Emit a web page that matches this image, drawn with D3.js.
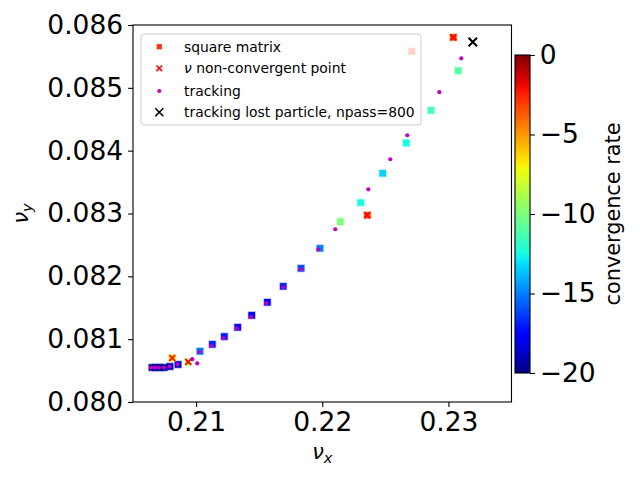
<html>
<head>
<style>
  body { margin: 0; background: #fff; }
  svg { font-family: "DejaVu Sans", sans-serif; }
</style>
<script src="https://cdn.jsdelivr.net/npm/d3@7"></script>
</head>
<body>
<svg id="chart"></svg>
<script>
// square matrix tunes, coloured by convergence rate
let squareNux = [0.20651, 0.20682, 0.20714, 0.20746, 0.20793, 0.20857, 0.20811, 0.20938,
                 0.21031, 0.21129, 0.21224, 0.21330, 0.21441, 0.21565, 0.21691, 0.21832,
                 0.21982, 0.22143, 0.22305, 0.22357, 0.22479, 0.22666, 0.22862, 0.23078,
                 0.22709, 0.23039]
let squareNuy = [0.080549, 0.080549, 0.080549, 0.080549, 0.080565, 0.080597, 0.080700, 0.080637,
                 0.080807, 0.080918, 0.081042, 0.081189, 0.081380, 0.081587, 0.081841, 0.082128,
                 0.082446, 0.082870, 0.083172, 0.082973, 0.083640, 0.084122, 0.084642, 0.085273,
                 0.085581, 0.085804]
let squareRate = [-19.5, -19.5, -19.5, -19.3, -19.0, -18.8, -6.5, -8.8,
                  -15.2, -16.8, -17.0, -17.5, -18.0, -17.5, -16.8, -16.0,
                  -15.0, -10.0, -12.5, -3.5, -13.4, -12.5, -11.4, -11.0,
                  -3.0, -3.5]

// points where nu did not converge
let nonconvNux = [0.20811, 0.20938, 0.22357, 0.22709, 0.23039]
let nonconvNuy = [0.080700, 0.080637, 0.082973, 0.085581, 0.085804]

// tracking tunes
let trackNux = [0.20643, 0.20674, 0.20706, 0.20746, 0.20793, 0.20854, 0.20970, 0.21009,
                0.21027, 0.21121, 0.21219, 0.21322, 0.21438, 0.21557, 0.21691, 0.21829,
                0.21969, 0.22103, 0.22365, 0.22539, 0.22674, 0.22928, 0.23102]
let trackNuy = [0.080549, 0.080549, 0.080549, 0.080549, 0.080565, 0.080600, 0.080681, 0.080616,
                0.080796, 0.080891, 0.081014, 0.081173, 0.081353, 0.081571, 0.081825, 0.082112,
                0.082430, 0.082749, 0.083385, 0.083863, 0.084245, 0.084931, 0.085470]

// lost particle
let lostNux = [0.23193]
let lostNuy = [0.08573]

let xTicks = [0.21, 0.22, 0.23]
let yTicks = [0.080, 0.081, 0.082, 0.083, 0.084, 0.085, 0.086]
let cbarTicks = [0, -5, -10, -15, -20]

let legendLabels = ["square matrix", "non-convergent point", "tracking", "tracking lost particle, npass=800"]

// matplotlib jet
let jetR = d3.scaleLinear().domain([0, 0.35, 0.66, 0.89, 1]).range([0, 0, 1, 1, 0.5]).clamp(true)
let jetG = d3.scaleLinear().domain([0, 0.125, 0.375, 0.64, 0.91, 1]).range([0, 0, 1, 1, 0, 0]).clamp(true)
let jetB = d3.scaleLinear().domain([0, 0.11, 0.34, 0.65, 1]).range([0.5, 1, 1, 0, 0]).clamp(true)
function jet(t) {
    return d3.rgb(jetR(t) * 255, jetG(t) * 255, jetB(t) * 255).formatHex()
}

let width = 640, height = 480
let margin = { top: 25, left: 133 }
let bodyWidth = 378.5, bodyHeight = 377
let fs = 26.5

let svg = d3.select("#chart").attr("width", width).attr("height", height)
svg.append("rect").attr("width", width).attr("height", height).attr("fill", "white")

let xScale = d3.scaleLinear().domain([0.205, 0.235]).range([0, bodyWidth])
let yScale = d3.scaleLinear().domain([0.080, 0.086]).range([bodyHeight, 0])
let rateNorm = d3.scaleLinear().domain([-20, 0]).range([0, 1]).clamp(true)

let body = svg.append("g").attr("transform", `translate(${margin.left},${margin.top})`)

// squares
let squares = squareNux.map((d, i) => ({ x: d, y: squareNuy[i], r: squareRate[i] }))
let sq = 6.5
body.selectAll(".sq").data(squares).enter().append("rect")
    .attr("x", d => xScale(d.x) - sq / 2)
    .attr("y", d => yScale(d.y) - sq / 2)
    .attr("width", sq).attr("height", sq)
    .attr("fill", d => jet(rateNorm(d.r)))
    .attr("stroke", d => jet(rateNorm(d.r)))
    .attr("stroke-opacity", 0.35)
    .attr("stroke-width", 1.5)

function cross(sel, xs, ys, size, color, sw) {
    let pts = xs.map((d, i) => [xScale(d), yScale(ys[i])])
    let h = size / 2
    sel.selectAll(null).data(pts).enter().append("path")
        .attr("d", d => `M${d[0] - h},${d[1] - h}L${d[0] + h},${d[1] + h}M${d[0] - h},${d[1] + h}L${d[0] + h},${d[1] - h}`)
        .attr("stroke", color).attr("stroke-width", sw).attr("fill", "none")
}

cross(body, nonconvNux, nonconvNuy, 6, "red", 1.7)

body.selectAll(".trk").data(trackNux).enter().append("circle")
    .attr("cx", d => xScale(d))
    .attr("cy", (d, i) => yScale(trackNuy[i]))
    .attr("r", 2.1)
    .attr("fill", "#bf00bf")

cross(body, lostNux, lostNuy, 8.5, "black", 2.1)

// axes frame
body.append("rect").attr("width", bodyWidth).attr("height", bodyHeight)
    .attr("fill", "none").attr("stroke", "black").attr("stroke-width", 1.1)

let axisX = d3.axisBottom(xScale).tickValues(xTicks).tickFormat(d3.format(".2f"))
    .tickSizeInner(4.9).tickSizeOuter(0).tickPadding(4.9)
let gx = body.append("g").attr("transform", `translate(0,${bodyHeight})`).call(axisX)
let axisY = d3.axisLeft(yScale).tickValues(yTicks).tickFormat(d3.format(".3f"))
    .tickSizeInner(4.9).tickSizeOuter(0).tickPadding(4.9)
let gy = body.append("g").call(axisY)
for (let g of [gx, gy]) {
    g.select(".domain").remove()
    g.selectAll("line").attr("stroke-width", 1.1)
    g.selectAll("text").attr("font-size", fs).attr("font-family", "DejaVu Sans").attr("fill", "black")
}

// axis labels
let xl = svg.append("text").attr("x", margin.left + bodyWidth / 2).attr("y", 459)
    .attr("text-anchor", "middle").attr("font-size", 20.8)
xl.append("tspan").attr("font-style", "italic").text("ν")
xl.append("tspan").attr("font-style", "italic").attr("font-size", 14.5).attr("dy", 4).text("x")

let yl = svg.append("text").attr("transform", `translate(28,${margin.top + bodyHeight / 2}) rotate(-90)`)
    .attr("text-anchor", "middle").attr("font-size", 20.8)
yl.append("tspan").attr("font-style", "italic").text("ν")
yl.append("tspan").attr("font-style", "italic").attr("font-size", 14.5).attr("dy", 4).text("y")

// legend
let leg = body.append("g")
leg.append("rect").attr("x", 8).attr("y", 9).attr("width", 280).attr("height", 91).attr("rx", 3)
    .attr("fill", "white").attr("fill-opacity", 0.8).attr("stroke", "#cccccc").attr("stroke-width", 1)
let legY = [21.7, 43.3, 66, 87.3]
let mx = 26.3
leg.append("rect").attr("x", mx - 2.6).attr("y", legY[0] - 2.6).attr("width", 5.2).attr("height", 5.2)
    .attr("fill", "#ff3010")
let lh = 2.8
leg.append("path").attr("d", `M${mx - lh},${legY[1] - lh}L${mx + lh},${legY[1] + lh}M${mx - lh},${legY[1] + lh}L${mx + lh},${legY[1] - lh}`)
    .attr("stroke", "red").attr("stroke-width", 1.6)
leg.append("circle").attr("cx", mx).attr("cy", legY[2]).attr("r", 2.1).attr("fill", "#bf00bf")
let bh = 4
leg.append("path").attr("d", `M${mx - bh},${legY[3] - bh}L${mx + bh},${legY[3] + bh}M${mx - bh},${legY[3] + bh}L${mx + bh},${legY[3] - bh}`)
    .attr("stroke", "black").attr("stroke-width", 1.6)
legendLabels.forEach((lab, i) => {
    let t = leg.append("text").attr("x", 51).attr("y", legY[i] + 5).attr("font-size", 13.9)
    if (i == 1) {
        t.append("tspan").attr("font-style", "italic").text("ν")
        t.append("tspan").text(" " + lab)
    } else {
        t.text(lab)
    }
})

// colorbar
let cbX = 515, cbTop = 55, cbW = 15, cbH = 318
let grad = svg.append("defs").append("linearGradient").attr("id", "jetgrad")
    .attr("x1", 0).attr("y1", 1).attr("x2", 0).attr("y2", 0)
grad.selectAll("stop").data(d3.range(0, 1.0001, 0.02)).enter().append("stop")
    .attr("offset", d => d).attr("stop-color", d => jet(d))
svg.append("rect").attr("x", cbX).attr("y", cbTop).attr("width", cbW).attr("height", cbH)
    .attr("fill", "url(#jetgrad)").attr("stroke", "black").attr("stroke-width", 1.1)

let cScale = d3.scaleLinear().domain([-20, 0]).range([cbH, 0])
let axisC = d3.axisRight(cScale).tickValues(cbarTicks).tickFormat(d => d < 0 ? "\u2212" + Math.abs(d) : d)
    .tickSizeInner(4.9).tickSizeOuter(0).tickPadding(4.9)
let gc = svg.append("g").attr("transform", `translate(${cbX + cbW},${cbTop})`).call(axisC)
gc.select(".domain").remove()
gc.selectAll("line").attr("stroke-width", 1.1)
gc.selectAll("text").attr("font-size", fs).attr("font-family", "DejaVu Sans").attr("fill", "black")

svg.append("text").attr("transform", `translate(620,${cbTop + cbH / 2}) rotate(-90)`)
    .attr("text-anchor", "middle").attr("font-size", 20.8).text("convergence rate")
</script>
</body>
</html>
